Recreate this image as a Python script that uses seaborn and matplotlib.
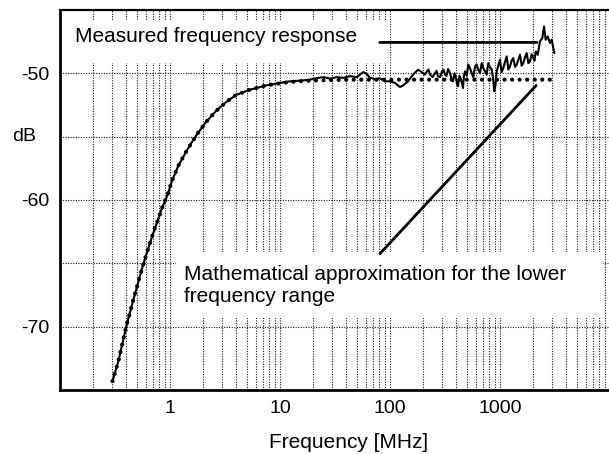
import numpy as np
import pandas as pd
import seaborn as sns
import matplotlib
matplotlib.use("Agg")
import matplotlib.pyplot as plt
from matplotlib.patches import Rectangle

# ---- data ----
meas_freq = [0.30, 0.34, 0.40, 0.46, 0.57, 0.68, 0.84, 0.95, 1.04, 1.19, 1.42, 1.7,
             2.1, 2.6, 3.2, 4.0, 5.3, 7.5, 10.0, 12.3, 15.2, 18.7, 20.8, 24.8, 28.5,
             32.8, 37.6, 43.3, 49.8, 57.2, 61.4, 65.8, 73.1, 81.1, 90.1, 100, 111,
             123, 131, 146, 162, 180, 200, 207, 217, 224, 231, 244, 257, 265, 273, 285,
             297, 306, 316, 326, 337, 344, 351, 362, 374, 386, 398, 406, 415, 428, 442,
             452, 461, 470, 481, 498, 515, 534, 553, 572, 593, 612, 635, 658, 682, 705,
             731, 756, 783, 810, 841, 865, 888, 910, 933, 965, 1000, 1035, 1072, 1110,
             1151, 1190, 1233, 1275, 1321, 1370, 1419, 1470, 1520, 1575, 1629, 1690,
             1750, 1810, 1874, 1940, 2009, 2060, 2112, 2203, 2310, 2425, 2512, 2602,
             2714, 2848, 2954, 3054, 3118]
meas_db = [-74.3, -72.7, -70.0, -68.0, -65.1, -63.0, -60.7, -59.6, -58.5, -57.3, -56.1, -55.0,
           -53.9, -53.0, -52.3, -51.7, -51.3, -50.95, -50.76, -50.63, -50.58, -50.5, -50.4, -50.3, -50.42,
           -50.3, -50.36, -50.22, -50.3, -49.9, -50.05, -50.35, -50.45, -50.4, -50.63, -50.63, -50.76,
           -51.08, -50.97, -50.63, -50.1, -49.71, -49.98, -50.1, -49.84, -49.7, -50.1, -50.3, -49.98, -49.8, -50.24, -50.3,
           -49.84, -49.7, -50.1, -50.2, -49.66, -49.8, -49.98, -50.4, -50.63, -50.0, -50.37, -50.8, -51.02, -50.2, -50.5,
           -50.8, -51.16, -50.2, -49.84, -50.2, -49.31, -49.6, -49.98, -50.3, -49.45, -49.3, -49.71, -50.0, -49.19, -49.6,
           -49.84, -50.1, -49.19, -49.5, -49.71, -50.4, -51.42, -50.9, -49.84, -49.4, -48.92, -49.9, -49.58, -49.1,
           -48.66, -49.7, -49.45, -49.0, -48.8, -49.5, -49.31, -48.9, -48.53, -49.4, -49.19, -48.7,
           -48.4, -49.2, -49.06, -48.5, -48.8, -49.0, -48.27, -48.53, -47.48, -47.22, -46.3, -47.35,
           -47.09, -47.61, -47.35, -48.0, -48.4]

approx_freq = [0.30, 0.34, 0.40, 0.46, 0.57, 0.68, 0.84, 0.95, 1.04, 1.19, 1.42, 1.7,
               2.1, 2.6, 3.2, 4.0, 5.3, 7.5, 10.7, 15, 20, 30, 50, 100, 300, 1000, 2950]
approx_db = [-74.3, -72.7, -70.0, -68.0, -65.1, -63.0, -60.7, -59.6, -58.5, -57.3, -56.1, -55.0,
             -53.9, -53.0, -52.3, -51.7, -51.3, -50.95, -50.75, -50.62, -50.57, -50.53, -50.5,
             -50.5, -50.5, -50.5, -50.5]

x_ticks = [1, 10, 100, 1000]
x_tick_labels = ["1", "10", "100", "1000"]
y_ticks = [-70, -60, -50]
y_tick_labels = ["-70", "-60", "-50"]

meas_df = pd.DataFrame({"freq": meas_freq, "db": meas_db})
approx_df = pd.DataFrame({"freq": approx_freq, "db": approx_db})

sns.set_theme(style="white")
plt.rcParams["font.family"] = ["Liberation Sans", "DejaVu Sans"]

W, H = 609, 454
fig = plt.figure(figsize=(W / 100, H / 100), dpi=100)
ax = fig.add_axes([60 / W, 1 - 390 / H, 550 / W, 380 / H])
ax.set_xscale("log")

sns.lineplot(data=meas_df, x="freq", y="db", ax=ax, color="black", lw=1.5,
             sort=False, estimator=None, zorder=3)
sns.lineplot(data=approx_df, x="freq", y="db", ax=ax, color="black", lw=3.0,
             linestyle=(0, (0.01, 1.8)), dash_capstyle="round",
             sort=False, estimator=None, zorder=4)

ax.set_xlim(0.1, 10000)
ax.set_ylim(-75, -45)

ax.set_xticks(x_ticks, x_tick_labels)
minor_x = [k * 10.0 ** e for e in range(-1, 4) for k in range(2, 10)]
ax.set_xticks(minor_x, minor=True)
ax.set_yticks(y_ticks, y_tick_labels)
ax.set_yticks([-65, -55], minor=True)
ax.tick_params(which="both", length=0)
ax.tick_params(axis="x", which="major", labelsize=14, pad=7, colors="black")
ax.tick_params(axis="y", which="major", labelsize=14, pad=8, colors="black")

ax.set_axisbelow(True)
ax.grid(True, which="both", color="0.1", linestyle=(0, (1, 1.3)), lw=0.8)

for s in ["left", "bottom"]:
    ax.spines[s].set_linewidth(2.0)
    ax.spines[s].set_color("black")
ax.spines["top"].set_linewidth(1.6)
ax.spines["top"].set_color("black")
ax.spines["right"].set_visible(False)

ax.set_xlabel("Frequency [MHz]", fontsize=15, color="black", va="center")
ax.xaxis.set_label_coords(0.525, -0.137)
ax.set_ylabel("dB", fontsize=14, rotation=0, color="black", va="center", ha="center")
ax.yaxis.set_label_coords(-0.066, 0.666)

# white boxes behind the annotation texts
def fig_rect(x0, y0, x1, y1):
    return Rectangle((x0 / W, 1 - y1 / H), (x1 - x0) / W, (y1 - y0) / H,
                     transform=fig.transFigure, facecolor="white", edgecolor="none",
                     zorder=1)

ax.add_patch(fig_rect(61, 20, 390, 63))
ax.add_patch(fig_rect(176, 252, 603, 318))

ax.text(75 / W, 1 - 37 / H, "Measured frequency response", transform=fig.transFigure,
        fontsize=15, va="center", ha="left", color="black", zorder=5)
ax.text(184 / W, 1 - 286 / H, "Mathematical approximation for the lower\nfrequency range",
        transform=fig.transFigure, fontsize=15, va="center", ha="left", color="black",
        linespacing=1.2, zorder=5)

ax.annotate("", xy=(2300, -47.56), xytext=(76, -47.56),
            arrowprops=dict(arrowstyle="-", color="black", lw=2.0), zorder=5)
ax.annotate("", xy=(2215, -50.8), xytext=(77.8, -64.4),
            arrowprops=dict(arrowstyle="-", color="black", lw=2.0), zorder=5)

fig.savefig("out.png", dpi=100)
